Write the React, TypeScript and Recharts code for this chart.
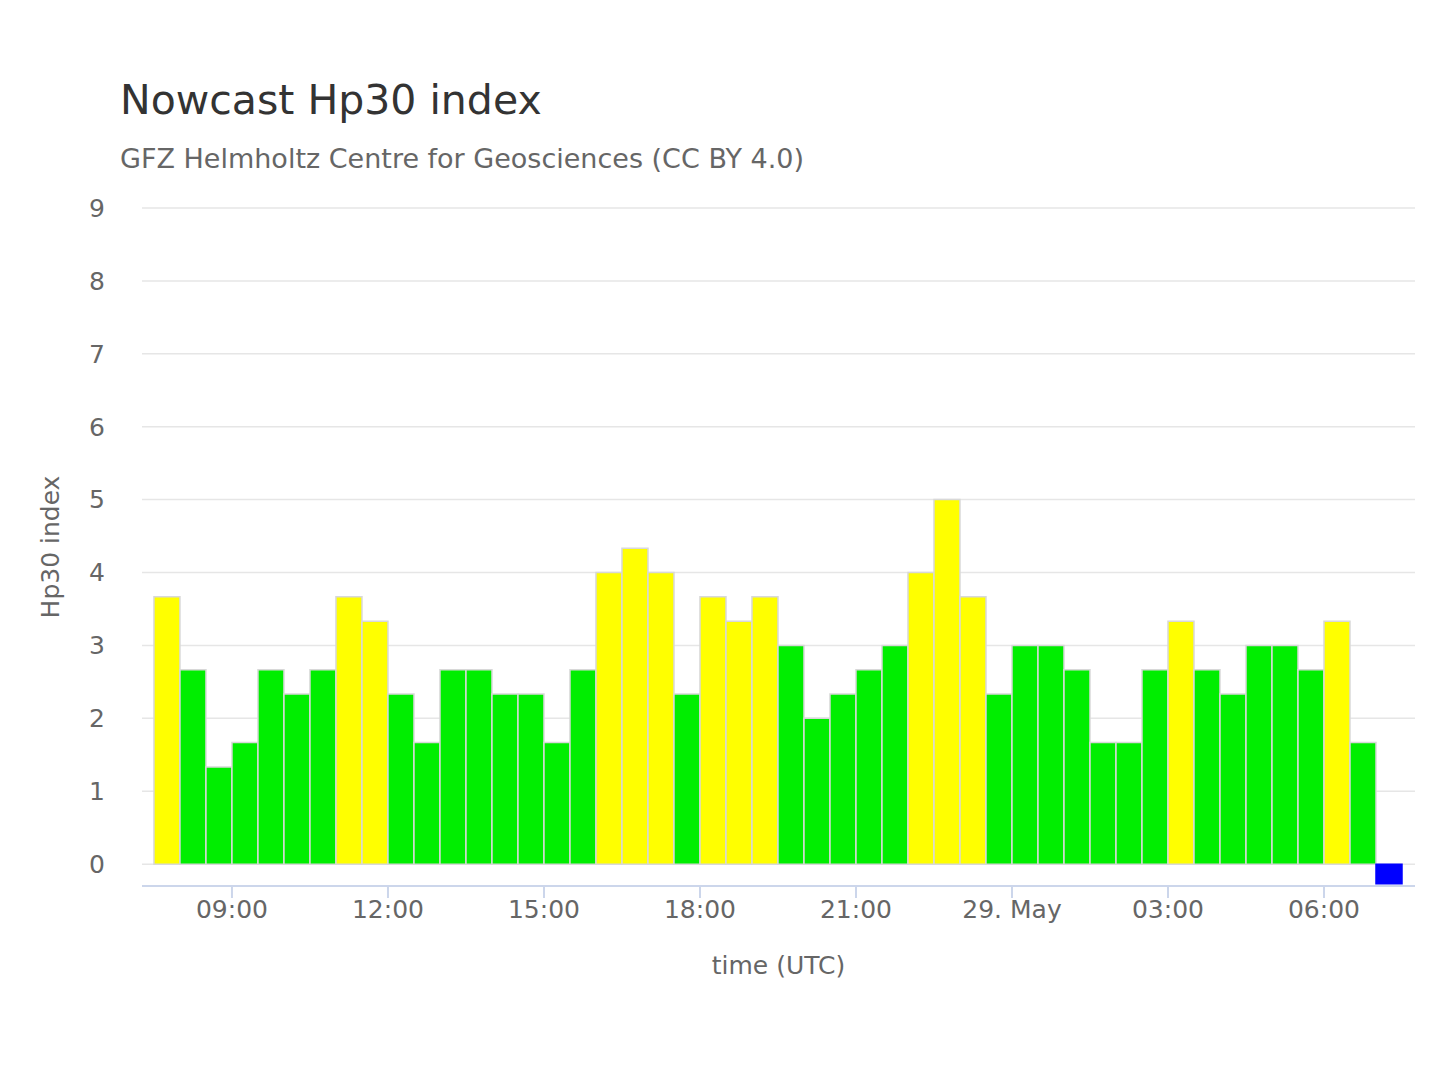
import { Bar, BarChart, CartesianGrid, Cell, XAxis, YAxis } from "recharts";

// Hp30 values, one per half hour, centred from 07:45 (28 May) onwards
const HP30_VALUES = [
  3.667, 2.667, 1.333, 1.667, 2.667, 2.333, 2.667, 3.667, 3.333, 2.333,
  1.667, 2.667, 2.667, 2.333, 2.333, 1.667, 2.667, 4.0, 4.333, 4.0,
  2.333, 3.667, 3.333, 3.667, 3.0, 2.0, 2.333, 2.667, 3.0, 4.0,
  5.0, 3.667, 2.333, 3.0, 3.0, 2.667, 1.667, 1.667, 2.667, 3.333,
  2.667, 2.333, 3.0, 3.0, 2.667, 3.333, 1.667,
];
// last slot: nowcast not yet available, drawn as a small blue marker
const PENDING_VALUE = -0.27;
const FIRST_HOUR = 7.75;
const X_TICKS = [9, 12, 15, 18, 21, 24, 27, 30];
const Y_TICKS = [0, 1, 2, 3, 4, 5, 6, 7, 8, 9];

const data = [
  ...HP30_VALUES.map((v, i) => ({ t: FIRST_HOUR + i * 0.5, v, pending: false })),
  { t: FIRST_HOUR + HP30_VALUES.length * 0.5, v: PENDING_VALUE, pending: true },
];

const font = '"DejaVu Sans", sans-serif';

function fmtTime(h: number) {
  if (h === 24) return "29. May";
  const hh = h % 24;
  return `${String(hh).padStart(2, "0")}:00`;
}

export default function App() {
  return (
    <div style={{ position: "absolute", left: 0, top: 0, width: 1440, height: 1080, background: "#fff", fontFamily: font }}>
      <div style={{ position: "absolute", left: 120, top: 76, fontSize: 41, color: "#333" }}>Nowcast Hp30 index</div>
      <div style={{ position: "absolute", left: 120, top: 143, fontSize: 27, color: "#666" }}>
        GFZ Helmholtz Centre for Geosciences (CC BY 4.0)
      </div>
      <div style={{ position: "absolute", left: 0, top: 0 }}>
        <BarChart
          width={1440}
          height={1080}
          data={data}
          margin={{ top: 208, right: 25, bottom: 94, left: 0 }}
          barSize={26}
        >
          <CartesianGrid horizontal vertical={false} stroke="#e6e6e6" strokeWidth={1.5} />
          <XAxis
            dataKey="t"
            type="number"
            domain={[7.27, 31.75]}
            ticks={X_TICKS}
            tickFormatter={fmtTime}
            axisLine={{ stroke: "#ccd6eb", strokeWidth: 2 }}
            tickLine={{ stroke: "#ccd6eb", strokeWidth: 2 }}
            tickSize={12}
            tick={{ fill: "#666", fontSize: 25, fontFamily: font }}
            height={100}
            label={{ value: "time (UTC)", position: "insideBottom", offset: 8, fill: "#666", fontSize: 25, fontFamily: font, dy: -4 }}
          />
          <YAxis
            type="number"
            domain={[-0.3, 9]}
            ticks={Y_TICKS}
            width={142}
            axisLine={false}
            tickLine={false}
            tickSize={0}
            tickMargin={37}
            tick={{ fill: "#666", fontSize: 25, fontFamily: font }}
            label={{ value: "Hp30 index", angle: -90, position: "insideLeft", offset: 50, fill: "#666", fontSize: 25, fontFamily: font, style: { textAnchor: "middle" } }}
          />
          <Bar dataKey="v" isAnimationActive={false} stroke="#d8d8d8" strokeWidth={1.5}>
            {data.map((d, i) => (
              <Cell
                key={i}
                fill={d.pending ? "#0000ff" : d.v >= 3.3 ? "#ffff00" : "#00ee00"}
                stroke={d.pending ? "#0000ff" : "#d8d8d8"}
              />
            ))}
          </Bar>
        </BarChart>
      </div>
    </div>
  );
}
